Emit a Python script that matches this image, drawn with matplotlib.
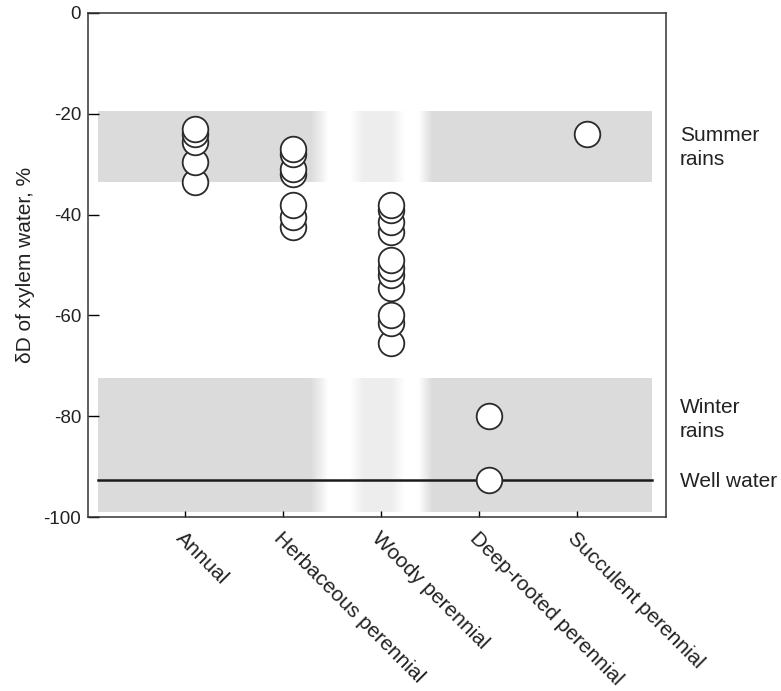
import numpy as np
import matplotlib.pyplot as plt

plt.rcParams['font.family'] = ['Liberation Sans', 'DejaVu Sans']
plt.rcParams['axes.unicode_minus'] = False

categories = ['Annual', 'Herbaceous perennial', 'Woody perennial',
              'Deep-rooted perennial', 'Succulent perennial']

annual = [-23, -24, -25.5, -29.5, -33.5]
herbaceous = [-27, -28, -31, -32, -38, -40.5, -42.5]
woody = [-38, -39, -41.5, -43.5, -49, -50.5, -52, -54.5, -60, -61.5, -65.5]
deep_rooted = [-80, -92.7]
succulent = [-24]

summer_band = (-19.5, -33.5)
winter_band = (-72.5, -99)
well_water = -92.7

groups = [annual, herbaceous, woody, deep_rooted, succulent]

fig = plt.figure(figsize=(7.81, 6.91), dpi=100)
ax = fig.add_axes([0.1127, 0.2518, 0.7401, 0.7294])

# shaded bands: soft-edged grey, fading out around the woody column
band_x0, band_x1 = -0.99, 4.66
gx = np.linspace(band_x0, band_x1, 600)
knots_x = [band_x0, 1.18, 1.36, 1.58, 1.72, 2.0, 2.14, 2.28, 2.42, band_x1]
knots_a = [1.0, 1.0, 0.0, 0.0, 0.5, 0.5, 0.0, 0.0, 1.0, 1.0]
alpha = np.interp(gx, knots_x, knots_a)
rgba = np.ones((1, gx.size, 4)) * 0.86
rgba[..., 3] = alpha
for top, bottom in [summer_band, winter_band]:
    ax.imshow(rgba, extent=[band_x0, band_x1, bottom, top], aspect='auto',
              interpolation='bilinear', zorder=1)

ax.plot([band_x0, band_x1], [well_water, well_water], color='#1a1a1a', lw=1.8, zorder=2)

xs, ys = [], []
for i, vals in enumerate(groups):
    for v in vals:
        xs.append(i)
        ys.append(v)
order = np.argsort(ys)
xs = np.array(xs)[order]
ys = np.array(ys)[order]
ax.scatter(xs, ys, s=340, facecolor='white', edgecolor='#2a2a2a', linewidth=1.3, zorder=3)

ax.set_xlim(-1.092, 4.806)
ax.set_ylim(-100, 0)
ax.set_yticks([0, -20, -40, -60, -80, -100])
ax.set_xticks(np.arange(len(categories)) - 0.1)
ax.set_xticklabels(categories, rotation=-45, ha='left', va='top', rotation_mode='anchor')
ax.tick_params(axis='y', direction='in', length=8, width=1, labelsize=13.5, pad=5,
               labelcolor='#222222')
ax.tick_params(axis='x', direction='in', length=4, width=1, labelsize=15, pad=8,
               labelcolor='#222222')
for sp in ax.spines.values():
    sp.set_linewidth(1.1)
    sp.set_color('#333333')

ax.set_ylabel('δD of xylem water, %', fontsize=15, labelpad=6, color='#222222')

tr = ax.get_yaxis_transform()
ax.text(1.024, -26.7, 'Summer\nrains', transform=tr, fontsize=15, va='center',
        ha='left', linespacing=1.35, color='#222222')
ax.text(1.024, -80.6, 'Winter\nrains', transform=tr, fontsize=15, va='center',
        ha='left', linespacing=1.35, color='#222222')
ax.text(1.024, -93, 'Well water', transform=tr, fontsize=15, va='center',
        ha='left', color='#222222')

fig.savefig('out.png', dpi=100)
